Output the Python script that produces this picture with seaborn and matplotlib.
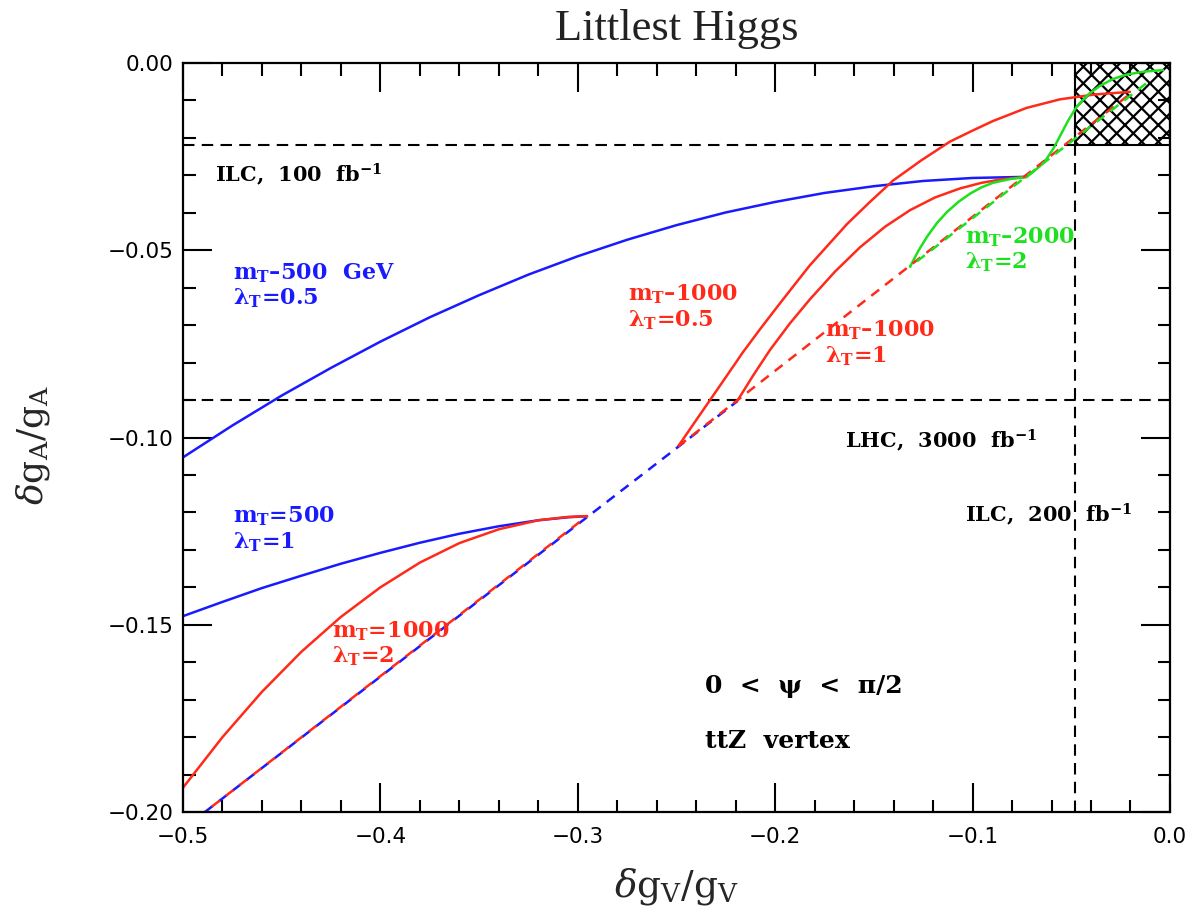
import numpy as np
import pandas as pd
import seaborn as sns
import matplotlib
matplotlib.use('Agg')
from matplotlib import pyplot as plt
from matplotlib.patches import Rectangle
from matplotlib.ticker import MultipleLocator, FuncFormatter

# solid curves (dgV/gV, dgA/gA)
blue_lam05_x = [-0.5, -0.475, -0.45, -0.425, -0.4, -0.375, -0.35, -0.325, -0.3, -0.275, -0.25,
                -0.225, -0.2, -0.175, -0.15, -0.125, -0.1, -0.0725]
blue_lam05_y = [-0.1053, -0.0968, -0.0888, -0.0814, -0.0744, -0.0679, -0.0620, -0.0565, -0.0516, -0.0472, -0.0433,
                -0.0399, -0.0371, -0.0347, -0.0329, -0.0315, -0.0307, -0.0304]

blue_lam1_x = [-0.5, -0.48, -0.46, -0.44, -0.42, -0.4, -0.38, -0.36, -0.34, -0.32, -0.305, -0.2953]
blue_lam1_y = [-0.1477, -0.1439, -0.1402, -0.1369, -0.1337, -0.1308, -0.1281, -0.1257, -0.1237, -0.1221, -0.1213, -0.1210]

red_lam2_x = [-0.5, -0.48, -0.46, -0.44, -0.42, -0.4, -0.38, -0.36, -0.34, -0.32, -0.305, -0.2953]
red_lam2_y = [-0.1935, -0.1800, -0.1679, -0.1572, -0.1479, -0.1400, -0.1334, -0.1282, -0.1245, -0.1221, -0.1212, -0.1210]

red_lam05_x = [-0.2492, -0.241, -0.233, -0.2245, -0.2163, -0.2077, -0.1991, -0.1908, -0.1824, -0.173, -0.1636,
               -0.152, -0.1403, -0.126, -0.1115, -0.1006, -0.0897, -0.0727, -0.0557, -0.038, -0.0203]
red_lam05_y = [-0.1024, -0.0961, -0.0900, -0.0835, -0.0772, -0.0711, -0.0652, -0.0596, -0.0540, -0.0485, -0.0430,
               -0.0371, -0.0314, -0.0260, -0.0210, -0.0182, -0.0155, -0.0120, -0.0097, -0.0084, -0.0077]

red_lam1_x = [-0.2194, -0.211, -0.2026, -0.1925, -0.1824, -0.1697, -0.157, -0.1443, -0.1317, -0.119, -0.1064,
              -0.0955, -0.0846, -0.0725]
red_lam1_y = [-0.0904, -0.0833, -0.0766, -0.0695, -0.0631, -0.0557, -0.0492, -0.0437, -0.0393, -0.0359, -0.0335,
              -0.0320, -0.0310, -0.0304]

green_lam2_x = [-0.1317, -0.1274, -0.1231, -0.118, -0.113, -0.1072, -0.1013, -0.0955, -0.0897, -0.0811, -0.0725]
green_lam2_y = [-0.0544, -0.0501, -0.0464, -0.0427, -0.0398, -0.0371, -0.0349, -0.0332, -0.0320, -0.0310, -0.0304]

green_top_x = [-0.0725, -0.0694, -0.066, -0.0625, -0.059, -0.0557, -0.0515, -0.0473, -0.0414, -0.0355, -0.029,
               -0.022, -0.013, -0.0035]
green_top_y = [-0.0304, -0.0291, -0.0276, -0.0256, -0.0228, -0.0195, -0.0153, -0.0117, -0.0084, -0.0061, -0.0043,
               -0.0031, -0.0023, -0.0019]

# dashed psi-boundary segments (start, end)
blue_dash_x = [-0.4889, -0.2194]
blue_dash_y = [-0.2000, -0.0904]
red_dash_low_x = [-0.4889, -0.2953]
red_dash_low_y = [-0.2000, -0.1210]
red_dash_high_x = [-0.2492, -0.0203]
red_dash_high_y = [-0.1024, -0.0083]
green_dash_x = [-0.1317, -0.0112]
green_dash_y = [-0.0544, -0.0051]

# sensitivity limits
ilc100_y = -0.022
lhc3000_y = -0.09
ilc200_x = -0.048

BLUE = '#1a1aff'
RED = '#ff2a1a'
GREEN = '#1ee01e'

sns.set_theme(style='ticks')
plt.rcParams['font.family'] = ['DejaVu Sans']
plt.rcParams['mathtext.fontset'] = 'custom'
plt.rcParams['mathtext.rm'] = 'DejaVu Serif'
plt.rcParams['mathtext.it'] = 'DejaVu Serif:italic'
plt.rcParams['mathtext.bf'] = 'DejaVu Serif:bold'
plt.rcParams['hatch.linewidth'] = 1.6

fig = plt.figure(figsize=(11.93, 9.09), dpi=100)
ax = fig.add_axes([0.1534, 0.1067, 0.8273, 0.824])

solid = [
    (blue_lam05_x, blue_lam05_y, BLUE),
    (blue_lam1_x, blue_lam1_y, BLUE),
    (red_lam2_x, red_lam2_y, RED),
    (red_lam05_x, red_lam05_y, RED),
    (red_lam1_x, red_lam1_y, RED),
    (green_lam2_x, green_lam2_y, GREEN),
    (green_top_x, green_top_y, GREEN),
]
for xs, ys, c in solid:
    sns.lineplot(x=xs, y=ys, color=c, lw=1.8, sort=False, estimator=None,
                 solid_joinstyle='round', solid_capstyle='round', ax=ax)

dashed = [
    (blue_dash_x, blue_dash_y, BLUE, (0, (4, 3))),
    (red_dash_low_x, red_dash_low_y, RED, (3.5, (4, 3))),
    (red_dash_high_x, red_dash_high_y, RED, (0, (4, 3))),
    (green_dash_x, green_dash_y, GREEN, (3.5, (4, 3))),
]
for xs, ys, c, ls in dashed:
    sns.lineplot(x=xs, y=ys, color=c, lw=1.8, linestyle=ls, sort=False, estimator=None, ax=ax)

# limits
black_ls = (0, (5.5, 3.5))
ax.plot([-0.5, ilc200_x], [ilc100_y, ilc100_y], color='black', lw=1.5, linestyle=black_ls, zorder=1)
ax.plot([-0.5, 0.0], [lhc3000_y, lhc3000_y], color='black', lw=1.5, linestyle=black_ls, zorder=1)
ax.plot([ilc200_x, ilc200_x], [-0.2, 0.0], color='black', lw=1.5, linestyle=black_ls, zorder=1)
ax.add_patch(Rectangle((ilc200_x, ilc100_y), -ilc200_x, -ilc100_y, fill=False,
                       hatch='xx', edgecolor='black', lw=1.5, zorder=0.5))

ax.set_xlim(-0.5, 0.0)
ax.set_ylim(-0.2, 0.0)
ax.xaxis.set_major_locator(MultipleLocator(0.1))
ax.xaxis.set_minor_locator(MultipleLocator(0.02))
ax.yaxis.set_major_locator(MultipleLocator(0.05))
ax.yaxis.set_minor_locator(MultipleLocator(0.01))
ax.xaxis.set_major_formatter(FuncFormatter(lambda v, p: f'{v:.1f}'.replace('-', '\u2212')))
ax.yaxis.set_major_formatter(FuncFormatter(lambda v, p: f'{v:.2f}'.replace('-', '\u2212')))
ax.tick_params(which='both', direction='in', top=True, right=True, width=1.5, colors='black', labelsize=15.5)
ax.tick_params(which='major', length=21)
ax.tick_params(which='minor', length=9)
ax.tick_params(axis='x', pad=11)
ax.tick_params(axis='y', pad=7)
for s in ax.spines.values():
    s.set_linewidth(1.6)
    s.set_color('black')

ax.set_xlabel(r'$\delta \mathrm{g_V/g_V}$', fontsize=27)
ax.set_ylabel(r'$\delta \mathrm{g_A/g_A}$', fontsize=26)
ax.xaxis.set_label_coords(0.5, -0.1)
ax.yaxis.set_label_coords(-0.152, 0.49)
ax.xaxis.label.set_va('center')
ax.yaxis.label.set_va('center')
fig.text(0.567, 0.968, 'Littlest Higgs', ha='center', va='center', fontsize=32,
         family='Liberation Serif', color='#222222')

lab = dict(fontsize=16, fontweight='bold', family='DejaVu Serif', va='center', ha='left', linespacing=1.1)
ax.text(-0.4838, -0.0299, 'ILC,  100  fb$^{\\mathbf{-1}}$', color='black', **dict(lab, fontsize=15))
ax.text(-0.1646, -0.1010, 'LHC,  3000  fb$^{\\mathbf{-1}}$', color='black', **dict(lab, fontsize=15))
ax.text(-0.1039, -0.1205, 'ILC,  200  fb$^{\\mathbf{-1}}$', color='black', **dict(lab, fontsize=15))
ax.text(-0.4747, -0.0595, 'm$_{\\mathbf{T}}$\u2013500  GeV\n\u03bb$_{\\mathbf{T}}$=0.5', color=BLUE, **lab)
ax.text(-0.4747, -0.1245, 'm$_{\\mathbf{T}}$=500\n\u03bb$_{\\mathbf{T}}$=1', color=BLUE, **lab)
ax.text(-0.4245, -0.1550, 'm$_{\\mathbf{T}}$=1000\n\u03bb$_{\\mathbf{T}}$=2', color=RED, **lab)
ax.text(-0.2746, -0.0652, 'm$_{\\mathbf{T}}$\u20131000\n\u03bb$_{\\mathbf{T}}$=0.5', color=RED, **lab)
ax.text(-0.1748, -0.0748, 'm$_{\\mathbf{T}}$\u20131000\n\u03bb$_{\\mathbf{T}}$=1', color=RED, **lab)
ax.text(-0.1039, -0.0498, 'm$_{\\mathbf{T}}$\u20132000\n\u03bb$_{\\mathbf{T}}$=2', color=GREEN, **lab)
ax.text(-0.2356, -0.1664, '0  <  \u03c8  <  \u03c0/2', color='black', **dict(lab, fontsize=18))
ax.text(-0.2356, -0.1811, 'ttZ  vertex', color='black', **dict(lab, fontsize=18))

fig.savefig('out.png', dpi=100)
